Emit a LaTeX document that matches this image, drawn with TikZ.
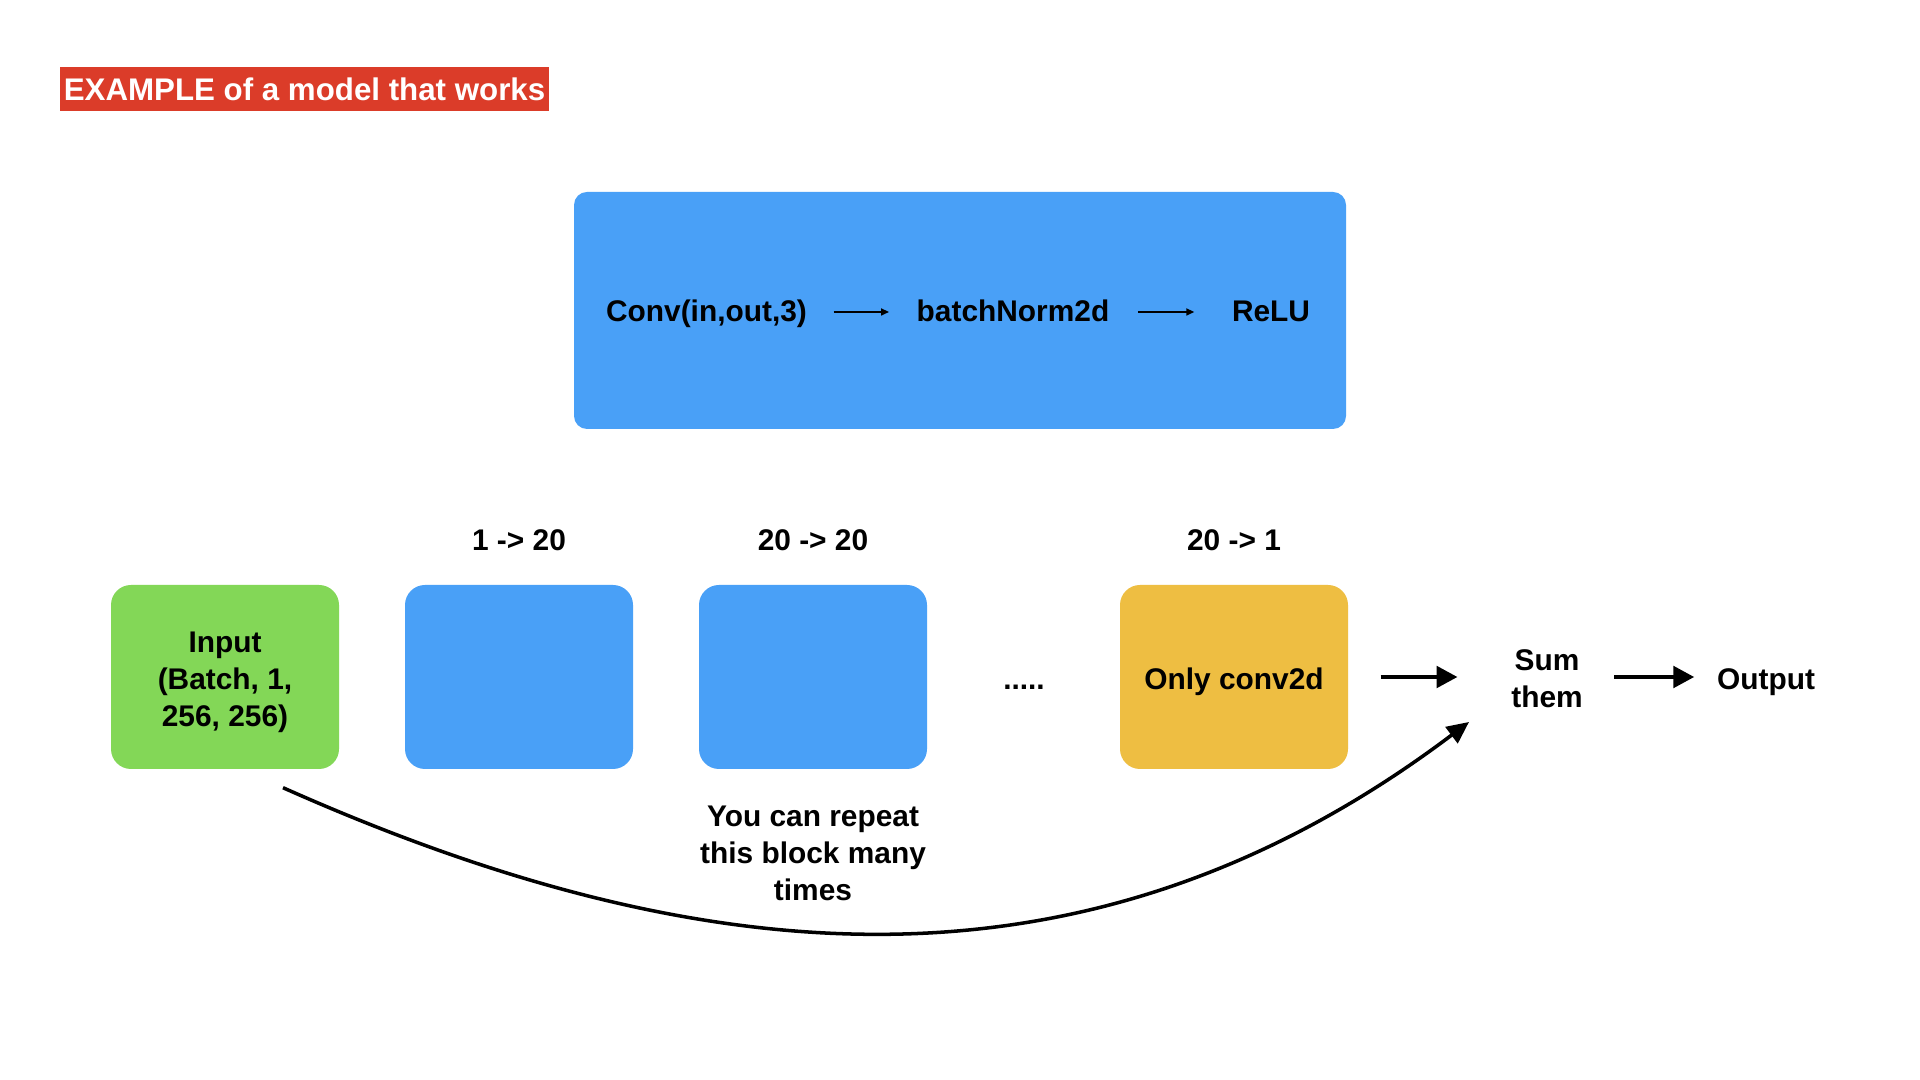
\documentclass[tikz,border=0pt]{standalone}
\usepackage{fontspec}
\setmainfont{Liberation Sans}
\usepackage{xcolor}
\usetikzlibrary{arrows.meta}
\definecolor{netblue}{RGB}{73,160,247}
\definecolor{netgreen}{RGB}{131,215,87}
\definecolor{netyellow}{RGB}{238,190,66}
\definecolor{netred}{RGB}{219,60,41}

\begin{document}
\begin{tikzpicture}[
    every node/.style={font=\fontsize{8.5}{10.5}\selectfont\bfseries},
    txt/.style={inner sep=0, align=center},
    rowtxt/.style={inner sep=0, text height=0.75em, text depth=0.22em},
    block/.style={rounded corners=0.2cm, minimum width=2.28cm, minimum height=1.84cm, inner sep=0},
    thinarrow/.style={-{Triangle[length=0.08cm,width=0.07cm]}, line width=0.45pt},
    thickarrow/.style={-{Triangle[length=0.21cm,width=0.21cm]}, line width=1.4pt}
]
    % Background
    \fill[white] (0,0) rectangle (19.2,10.8);

    % Title
    \node[fill=netred, text=white, font=\fontsize{8.9}{11}\selectfont\bfseries, minimum width=4.89cm, minimum height=0.44cm, inner sep=0] (title) at (3.045,9.91) {EXAMPLE of a model that works};

    % Layer box
    \node[fill=netblue, rounded corners=0.13cm, minimum width=7.72cm, minimum height=2.37cm] (layer) at (9.6,7.695) {};
    \node[rowtxt] (conv) at (7.065,7.68) {Conv(in,out,3)};
    \node[rowtxt] (bn) at (10.13,7.68) {batchNorm2d};
    \node[rowtxt] (relu) at (12.71,7.68) {ReLU};
    \draw[thinarrow, shorten <=0.26cm, shorten >=0.27cm] (conv) -- (bn);
    \draw[thinarrow, shorten <=0.28cm, shorten >=0.37cm] (bn) -- (relu);

    % Channels
    \node[txt] (firstdim) at (5.19,5.40) {1 -> 20};
    \node[txt] (middim) at (8.13,5.40) {20 -> 20};
    \node[txt] (lastdim) at (12.34,5.40) {20 -> 1};

    % Blocks
    \node[block, fill=netgreen] (input) at (2.25,4.03) {};
    \node[txt] (inputtxt) at (2.25,3.98) {Input\\(Batch, 1,\\256, 256)};
    \node[block, fill=netblue] (first) at (5.19,4.03) {};
    \node[block, fill=netblue] (mid) at (8.13,4.03) {};
    \node[txt] (dots) at (10.24,3.93) {.....};
    \node[block, fill=netyellow] (last) at (12.34,4.03) {};
    \node[txt] (lasttxt) at (12.34,3.985) {Only conv2d};
    \node[txt] (sum) at (15.47,4.01) {Sum\\them};
    \node[txt] (output) at (17.66,3.98) {Output};
    \node[txt] (repeat) at (8.13,2.27) {You can repeat\\this block many\\times};

    % Arrows
    \draw[thickarrow, shorten <=0.32cm, shorten >=0.53cm] (last.east) -- (last.east -| sum.west);
    \draw[thickarrow, shorten <=0.31cm, shorten >=0.22cm] (last.east -| sum.east) -- (last.east -| output.west);
    \draw[line width=1pt, -{Triangle[length=0.22cm,width=0.2cm]}] ([xshift=0.58cm,yshift=-0.18cm]input.south) .. controls +(-24:4.7) and +(217:4.7) .. ([xshift=-0.78cm,yshift=-0.43cm]sum.center);
\end{tikzpicture}
\end{document}
